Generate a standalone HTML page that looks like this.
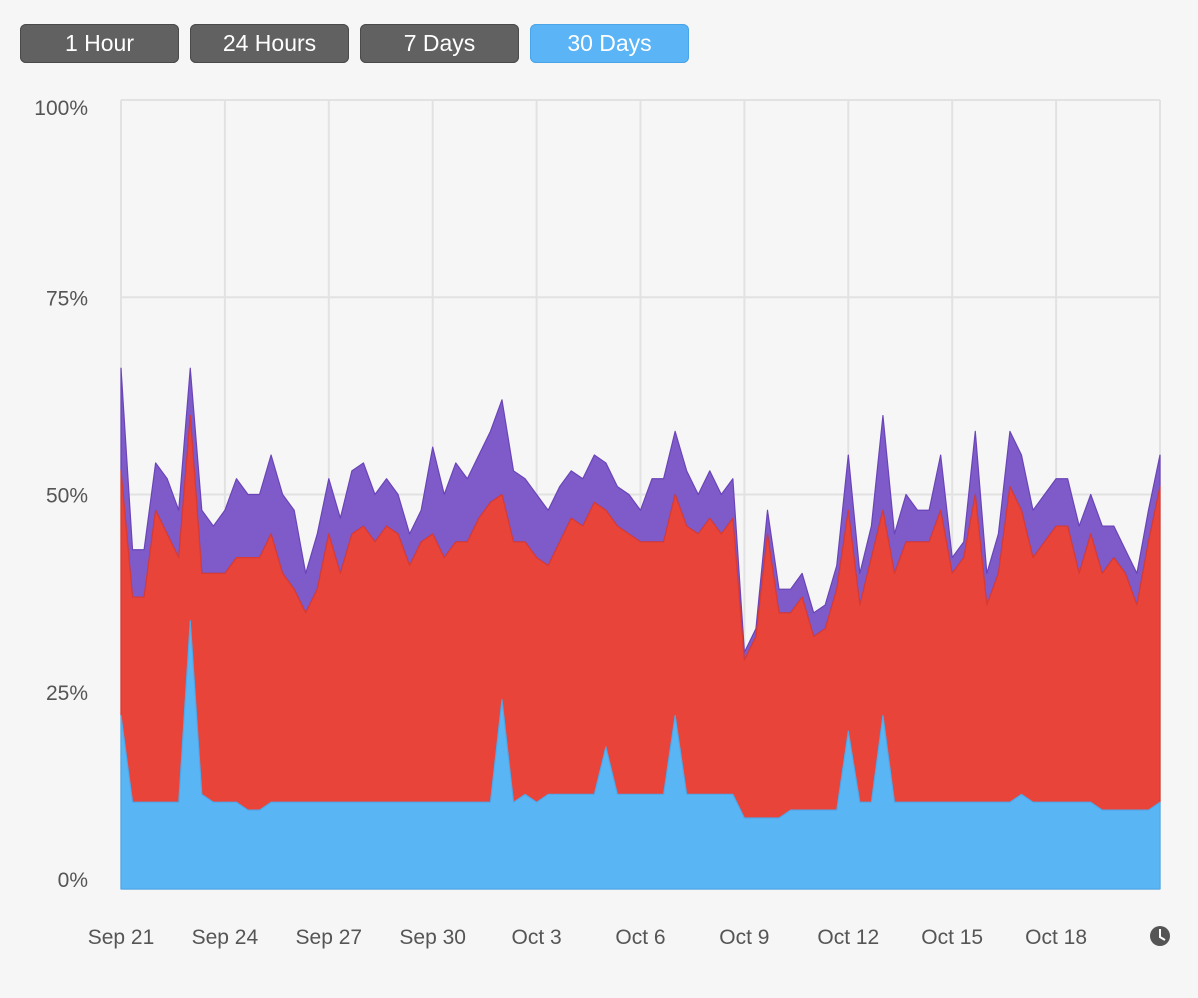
<!DOCTYPE html>
<html><head><meta charset="utf-8"><style>
body{margin:0;width:1198px;height:998px;background:#f6f6f6;font-family:"Liberation Sans",sans-serif;overflow:hidden}
.btn{position:absolute;top:24px;width:159px;height:39px;border-radius:6px;background:#616161;color:#fff;font-size:23px;line-height:39px;text-align:center;box-shadow:inset 0 0 0 1px #4a4a4a}
.btn.on{background:#5ab4f5;box-shadow:inset 0 0 0 1px #4aa4e8}
</style></head><body>
<div class="btn" style="left:20px">1 Hour</div>
<div class="btn" style="left:190px">24 Hours</div>
<div class="btn" style="left:360px">7 Days</div>
<div class="btn on" style="left:530px">30 Days</div>
<svg id="chart" width="1198" height="998" style="position:absolute;left:0;top:0"></svg>
<script>
const yTicks=[0,25,50,75,100];
const xLabels=["Sep 21","Sep 24","Sep 27","Sep 30","Oct 3","Oct 6","Oct 9","Oct 12","Oct 15","Oct 18"];
const blueVals=[22,11,11,11,11,11,34,12,11,11,11,10,10,11,11,11,11,11,11,11,11,11,11,11,11,11,11,11,11,11,11,11,11,24,11,12,11,12,12,12,12,12,18,12,12,12,12,12,22,12,12,12,12,12,9,9,9,9,10,10,10,10,10,20,11,11,22,11,11,11,11,11,11,11,11,11,11,11,12,11,11,11,11,11,11,10,10,10,10,10,11];
const redVals=[31,26,26,37,34,31,26,28,29,29,31,32,32,34,29,27,24,27,34,29,34,35,33,35,34,30,33,34,31,33,33,36,38,26,33,32,31,29,32,35,34,37,30,34,33,32,32,32,28,34,33,35,33,35,20,23,36,26,25,27,22,23,28,28,25,31,26,29,33,33,33,37,29,31,39,25,29,40,36,31,33,35,35,29,34,30,32,30,26,34,40];
const purpleVals=[13,6,6,6,7,6,6,8,6,8,10,8,8,10,10,10,5,7,7,7,8,8,6,6,5,4,4,11,8,10,8,8,9,12,9,8,8,7,7,6,6,6,6,5,5,4,8,8,8,7,5,6,5,5,1,1,3,3,3,3,3,3,3,7,4,4,12,5,6,4,4,7,2,2,8,4,5,7,7,6,6,6,6,6,5,6,4,3,4,4,4];
const NS="http://www.w3.org/2000/svg";
const svg=document.getElementById('chart');
const X0=121,X1=1160,Y0=889,Y100=100;
const n=blueVals.length;
const xs=i=>X0+(X1-X0)*i/(n-1);
const ys=v=>Y0-(Y0-Y100)*v/100;
const xd=d=>X0+(X1-X0)*d/30;
function mk(t,a){const e=document.createElementNS(NS,t);for(const k in a)e.setAttribute(k,a[k]);svg.appendChild(e);return e;}
yTicks.forEach(t=>{
 const l=mk('line',{x1:X0,x2:X1,y1:ys(t),y2:ys(t),stroke:'#e2e2e2','stroke-width':2});
 
 
 const off=t===100?15:(t===0?-2:8);
 const tx=mk('text',{x:88,y:ys(t)+off,'text-anchor':'end','font-size':21,fill:'#555'});
 tx.textContent=t+'%';
 
 
});
for(let d=0;d<=30;d+=3){
 const l=mk('line',{x1:xd(d),x2:xd(d),y1:Y100,y2:Y0,stroke:'#e2e2e2','stroke-width':2});
 
 
}
xLabels.forEach((s,i)=>{
 const tx=mk('text',{x:xd(i*3),y:944,'text-anchor':'middle','font-size':21,fill:'#555'});
 tx.textContent=s;
 
 
});
function area(lo,hi,fill,stroke,name){
 let d='M'+xs(0)+','+ys(hi[0]);
 for(let i=1;i<n;i++)d+='L'+xs(i)+','+ys(hi[i]);
 for(let i=n-1;i>=0;i--)d+='L'+xs(i)+','+ys(lo[i]);
 const p=mk('path',{d:d+'Z',fill:fill,stroke:stroke,'stroke-width':1.2,'stroke-linejoin':'round'});
 
 
}
const zero=blueVals.map(()=>0);
const c1=blueVals.slice();
const c2=blueVals.map((b,i)=>b+redVals[i]);
const c3=c2.map((v,i)=>v+purpleVals[i]);
area(c2,c3,'#7e5bc9','#6a44b8','purple-area');
area(c1,c2,'#e8443a','#d93a32','red-area');
area(zero,c1,'#5ab5f5','#4fa8ea','blue-area');
const c=mk('circle',{cx:1160,cy:936,r:10,fill:'#555'});


const h=mk('path',{d:'M1160,929 L1160,937 L1165,940',stroke:'#fff','stroke-width':2,fill:'none'});


</script>
</body></html>
